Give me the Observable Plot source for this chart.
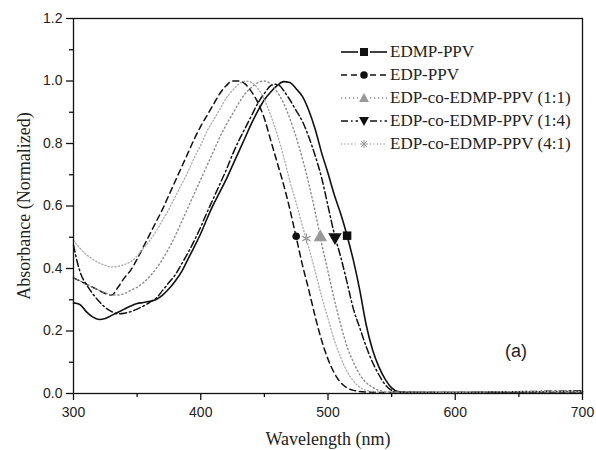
<!DOCTYPE html>
<html><head><meta charset="utf-8">
<script src="https://cdn.jsdelivr.net/npm/d3@7"></script>
<script src="https://cdn.jsdelivr.net/npm/@observablehq/plot@0.6"></script>
<style>
body{margin:0;background:#fff;}
#wrap{position:relative;width:596px;height:450px;overflow:hidden;background:#fff;}
#wrap svg{font-family:"Liberation Sans",Arial,sans-serif;}
#wrap [aria-label="x-axis label"] text,#wrap [aria-label="y-axis label"] text,
#wrap [aria-label="x-axis label"],#wrap [aria-label="y-axis label"]{font-family:"Liberation Serif","Times New Roman",serif;font-size:18px;fill:#222;}
#legend{position:absolute;left:341px;top:40px;font-family:"Liberation Serif","Times New Roman",serif;font-size:17px;color:#222;}
#legend .row{height:23px;display:flex;align-items:center;white-space:nowrap;}
#legend svg{margin-right:3px;}
#tag{position:absolute;left:505px;top:341px;font-family:"Liberation Sans",Arial,sans-serif;font-size:18px;color:#222;}
</style></head><body>
<div id="wrap"><div id="legend"></div><div id="tag">(a)</div></div>
<script>
// ---- data ----
const seriesNames = ["EDMP-PPV","EDP-PPV","EDP-co-EDMP-PPV (1:1)","EDP-co-EDMP-PPV (1:4)","EDP-co-EDMP-PPV (4:1)"];

const edmpPPV = [[300,0.29],[305,0.285],[310,0.262],[315,0.245],[320,0.237],[325,0.24],[330,0.25],[335,0.26],[340,0.27],[345,0.28],[350,0.288],[355,0.291],[360,0.295],[365,0.301],[370,0.315],[375,0.335],[380,0.36],[385,0.39],[390,0.43],[395,0.47],[400,0.512],[405,0.56],[410,0.605],[415,0.645],[420,0.685],[425,0.73],[430,0.775],[435,0.82],[440,0.865],[445,0.905],[450,0.94],[455,0.965],[460,0.985],[465,0.998],[470,0.995],[475,0.975],[480,0.95],[485,0.905],[490,0.845],[495,0.77],[500,0.705],[505,0.635],[510,0.575],[515,0.505],[520,0.425],[525,0.33],[530,0.22],[535,0.14],[540,0.085],[545,0.045],[550,0.018],[555,0.006],[560,0.004],[600,0.003],[650,0.005],[700,0.006]];

const edpPPV = [[300,0.37],[305,0.36],[310,0.35],[315,0.34],[320,0.33],[325,0.32],[330,0.315],[335,0.34],[340,0.37],[345,0.395],[350,0.43],[355,0.47],[360,0.51],[365,0.55],[370,0.59],[375,0.635],[380,0.68],[385,0.725],[390,0.77],[395,0.815],[400,0.855],[405,0.89],[410,0.925],[415,0.96],[420,0.985],[425,1.0],[430,1.0],[435,0.99],[440,0.965],[445,0.93],[450,0.88],[455,0.81],[460,0.74],[465,0.67],[470,0.59],[475,0.50],[480,0.41],[485,0.33],[490,0.245],[495,0.17],[500,0.11],[505,0.065],[510,0.035],[515,0.018],[520,0.01],[530,0.005],[550,0.003],[600,0.003],[650,0.005],[700,0.005]];

const co11 = [[300,0.37],[305,0.36],[310,0.35],[315,0.34],[320,0.33],[325,0.322],[330,0.316],[335,0.315],[340,0.32],[345,0.33],[350,0.34],[355,0.355],[360,0.375],[365,0.4],[370,0.43],[375,0.465],[380,0.505],[385,0.55],[390,0.595],[395,0.64],[400,0.685],[405,0.73],[410,0.775],[415,0.82],[420,0.86],[425,0.895],[430,0.93],[435,0.96],[440,0.98],[445,0.995],[450,1.0],[455,0.99],[460,0.965],[465,0.93],[470,0.88],[475,0.82],[480,0.75],[485,0.67],[490,0.58],[495,0.48],[500,0.39],[505,0.3],[510,0.22],[515,0.15],[520,0.1],[525,0.06],[530,0.035],[535,0.02],[540,0.01],[550,0.005],[600,0.004],[650,0.006],[700,0.006]];

const co14 = [[300,0.475],[303,0.42],[306,0.38],[310,0.35],[315,0.32],[320,0.295],[325,0.275],[330,0.262],[335,0.255],[340,0.257],[345,0.262],[350,0.27],[355,0.28],[360,0.292],[365,0.305],[370,0.33],[375,0.355],[380,0.38],[385,0.415],[390,0.45],[395,0.49],[400,0.533],[405,0.58],[410,0.625],[415,0.67],[420,0.715],[425,0.765],[430,0.81],[435,0.85],[440,0.89],[445,0.93],[450,0.96],[455,0.985],[458,0.99],[462,0.985],[465,0.97],[470,0.94],[475,0.905],[480,0.87],[485,0.82],[490,0.76],[495,0.69],[500,0.6],[505,0.51],[510,0.437],[515,0.355],[520,0.27],[525,0.21],[530,0.15],[535,0.1],[540,0.06],[545,0.028],[550,0.01],[555,0.004],[600,0.003],[650,0.006],[700,0.008]];

const co41 = [[300,0.49],[305,0.465],[310,0.445],[315,0.43],[320,0.418],[325,0.41],[330,0.405],[335,0.407],[340,0.413],[345,0.422],[350,0.44],[355,0.465],[360,0.49],[365,0.52],[370,0.555],[375,0.59],[380,0.63],[385,0.67],[390,0.71],[395,0.755],[400,0.795],[405,0.84],[410,0.875],[415,0.91],[420,0.945],[425,0.97],[430,0.99],[435,1.0],[440,0.995],[445,0.975],[450,0.94],[455,0.89],[460,0.83],[465,0.76],[470,0.68],[475,0.61],[480,0.535],[485,0.465],[490,0.39],[495,0.31],[500,0.24],[505,0.17],[510,0.115],[515,0.07],[520,0.04],[525,0.02],[530,0.01],[540,0.005],[600,0.004],[650,0.006],[700,0.006]];

const markerX = [515, 475, 494, 505.5, 483];
const markerY = [0.505, 0.503, 0.5, 0.5, 0.496];

const xMajorTicks = [300, 400, 500, 600, 700];
const xMinorTicks = [350, 450, 550, 650];
const yMajorTicks = [0, 0.2, 0.4, 0.6, 0.8, 1.0, 1.2];
const yMinorTicks = [0.1, 0.3, 0.5, 0.7, 0.9, 1.1];

// ---- styles ----
const styles = [
  {stroke:"#111", dash:null, width:1.6, symbol:"square", fill:"#111", rotate:0, r:4.8},
  {stroke:"#111", dash:"6,4", width:1.5, symbol:"circle", fill:"#111", rotate:0, r:3.8},
  {stroke:"#888", dash:"1.2,2.8", width:1.4, symbol:"triangle", fill:"#999", rotate:0, r:5},
  {stroke:"#111", dash:"7,3,1.6,3", width:1.5, symbol:"triangle", fill:"#111", rotate:180, r:5},
  {stroke:"#aaa", dash:"1.2,2.2", width:1.3, symbol:"asterisk", fill:"none", rotate:0, r:4.5}
];
const allSeries = [edmpPPV, edpPPV, co11, co14, co41];

const marks = [];
allSeries.forEach((s, i) => {
  const st = styles[i];
  marks.push(Plot.line(s, {x: d => d[0], y: d => d[1], stroke: st.stroke, strokeWidth: st.width,
    strokeDasharray: st.dash, curve: "monotone-x"}));
});
const markerData = seriesNames.map((n, i) => ({name: n, x: markerX[i], y: markerY[i], i}));
markerData.forEach(d => {
  const st = styles[d.i];
  marks.push(Plot.dot([d], {x: "x", y: "y", symbol: st.symbol, r: st.r, rotate: st.rotate,
    fill: st.symbol === "asterisk" ? "none" : st.fill, stroke: st.symbol === "asterisk" ? "#999" : "none", strokeWidth: 1.2}));
});

marks.push(Plot.frame({stroke: "#111", strokeWidth: 1.3}));
marks.push(Plot.axisX({ticks: xMajorTicks, tickSize: 7, tickPadding: 7, tickFormat: d => String(d),
  label: "Wavelength (nm)", labelAnchor: "center", labelArrow: "none", labelOffset: 51, stroke: "#111", strokeWidth: 1.3}));
marks.push(Plot.axisX({ticks: xMinorTicks, tickSize: 4, tickFormat: () => "", label: null, stroke: "#111", strokeWidth: 1.3}));
marks.push(Plot.axisY({ticks: yMajorTicks, tickSize: 7, tickPadding: 4, tickFormat: d3.format(".1f"),
  label: "Absorbance (Normalized)", labelAnchor: "center", labelArrow: "none", labelOffset: 56, stroke: "#111", strokeWidth: 1.3}));
marks.push(Plot.axisY({ticks: yMinorTicks, tickSize: 4, tickFormat: () => "", label: null, stroke: "#111", strokeWidth: 1.3}));

const chart = Plot.plot({
  width: 596, height: 450,
  marginLeft: 73, marginRight: 14, marginTop: 18, marginBottom: 57,
  x: {domain: [300, 700]},
  y: {domain: [0, 1.2]},
  style: {fontSize: "14px", fontFamily: "Liberation Sans, Arial, sans-serif", color: "#222", background: "#fff"},
  marks
});
const wrap = document.getElementById("wrap");
wrap.insertBefore(chart, wrap.firstChild);

// ---- legend ----
const legend = document.getElementById("legend");
seriesNames.forEach((n, i) => {
  const st = styles[i];
  const row = document.createElement("div");
  row.className = "row";
  const W = 46, H = 14;
  let sym = "";
  const cx = W / 2, cy = H / 2;
  if (st.symbol === "square") sym = `<rect x="${cx-4}" y="${cy-4}" width="8" height="8" fill="${st.fill}"/>`;
  else if (st.symbol === "circle") sym = `<circle cx="${cx}" cy="${cy}" r="3.8" fill="${st.fill}"/>`;
  else if (st.symbol === "triangle" && st.rotate === 0) sym = `<path d="M${cx},${cy-5}L${cx+5},${cy+4}L${cx-5},${cy+4}Z" fill="${st.fill}"/>`;
  else if (st.symbol === "triangle") sym = `<path d="M${cx},${cy+5}L${cx+5},${cy-4}L${cx-5},${cy-4}Z" fill="${st.fill}"/>`;
  else sym = `<path d="M${cx-4},${cy}H${cx+4}M${cx},${cy-4}V${cy+4}M${cx-3},${cy-3}L${cx+3},${cy+3}M${cx-3},${cy+3}L${cx+3},${cy-3}" stroke="#999" stroke-width="1"/>`;
  const dash = st.dash ? `stroke-dasharray="${st.dash}"` : "";
  row.innerHTML = `<svg width="${W}" height="${H}"><line x1="0" x2="${cx-6}" y1="${cy}" y2="${cy}" stroke="${st.stroke}" stroke-width="${st.width}" ${dash}/><line x1="${cx+6}" x2="${W}" y1="${cy}" y2="${cy}" stroke="${st.stroke}" stroke-width="${st.width}" ${dash}/>${sym}</svg><span>${n}</span>`;
  legend.appendChild(row);
});
</script>
</body></html>
